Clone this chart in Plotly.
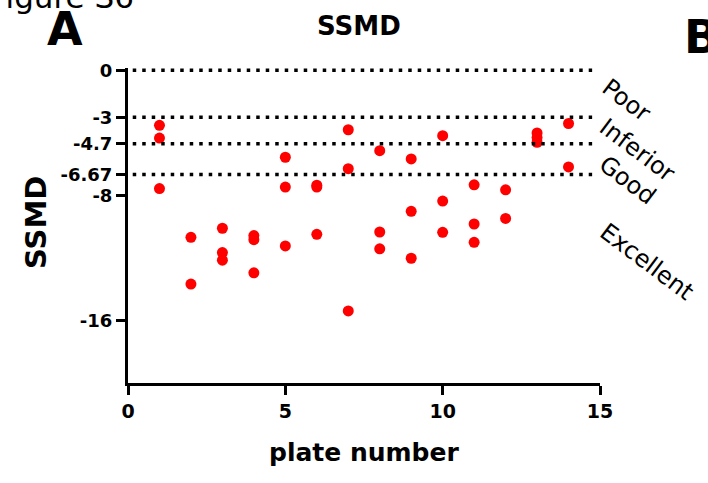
import plotly.graph_objects as go

# ---- data ----
plate = [1, 1, 1, 2, 2, 3, 3, 3, 4, 4, 4, 5, 5, 5, 6, 6, 6, 7, 7, 7,
         8, 8, 8, 9, 9, 9, 10, 10, 10, 11, 11, 11, 12, 12, 13, 13, 13, 14, 14]
ssmd = [-3.52, -4.33, -7.56, -10.68, -13.67, -10.1, -11.66, -12.14,
        -10.57, -10.83, -12.95, -5.56, -7.47, -11.23, -7.35, -7.47, -10.49,
        -3.8, -6.29, -15.39, -5.14, -10.34, -11.42, -5.67, -9.02, -12.02,
        -4.18, -8.36, -10.36, -7.32, -9.83, -11.0, -7.64, -9.47,
        -4.0, -4.3, -4.6, -3.4, -6.18]
thresholds = [0, -3, -4.7, -6.67]
y_tickvals = [0, -3, -4.7, -6.67, -8, -16]
y_ticktext = ["0", "-3", "-4.7", "-6.67", "-8", "-16"]
x_tickvals = [0, 5, 10, 15]
quality_labels = ["Poor", "Inferior", "Good", "Excellent"]

W, H = 708, 483
L, R, T, B = 128, 108, 68, 100
PW, PH = W - L - R, H - T - B


def px(x):
    return (x - L) / PW


def py(y):
    return (H - B - y) / PH


FONT = "DejaVu Sans"

fig = go.Figure()
fig.add_trace(go.Scatter(
    x=plate, y=ssmd, mode="markers",
    marker=dict(color="#ff0000", size=11, line=dict(width=0)),
    showlegend=False, cliponaxis=False,
))

for t in thresholds:
    fig.add_shape(type="line", xref="x", yref="y", x0=0.15, x1=14.75, y0=t, y1=t,
                  line=dict(color="black", width=3.5, dash="3.5px,6px"))

annotations = []
# category labels (rotated)
label_pos = [(626, 100), (637, 150), (627, 180), (647, 262)]
for txt, (lx, ly) in zip(quality_labels, label_pos):
    annotations.append(dict(text=txt, x=px(lx), y=py(ly), xref="paper", yref="paper",
                            showarrow=False, textangle=37, xanchor="center", yanchor="middle",
                            font=dict(family=FONT, size=24, color="black")))
# titles
annotations.append(dict(text="SSMD", x=px(359), y=py(26), xref="paper", yref="paper",
                        showarrow=False, xanchor="center", yanchor="middle",
                        font=dict(family=FONT, size=26, color="black", weight="bold")))
annotations.append(dict(text="SSMD", x=px(36), y=py(223), xref="paper", yref="paper",
                        showarrow=False, xanchor="center", yanchor="middle", textangle=-90,
                        font=dict(family=FONT, size=29, color="black", weight="bold")))
annotations.append(dict(text="plate number", x=px(364), y=py(452), xref="paper", yref="paper",
                        showarrow=False, xanchor="center", yanchor="middle",
                        font=dict(family=FONT, size=25, color="black", weight="bold")))
annotations.append(dict(text="A", x=px(65), y=py(29), xref="paper", yref="paper",
                        showarrow=False, xanchor="center", yanchor="middle",
                        font=dict(family=FONT, size=46, color="black", weight="bold")))
annotations.append(dict(text="B", x=px(682), y=py(37), xref="paper", yref="paper",
                        showarrow=False, xanchor="left", yanchor="middle",
                        font=dict(family=FONT, size=46, color="black", weight="bold")))
annotations.append(dict(text="Figure S6", x=px(136), y=py(-3), xref="paper", yref="paper",
                        showarrow=False, xanchor="right", yanchor="middle",
                        font=dict(family=FONT, size=31, color="black")))

fig.update_layout(
    width=W, height=H,
    margin=dict(l=L, r=R, t=T, b=B, autoexpand=False),
    paper_bgcolor="white", plot_bgcolor="white",
    annotations=annotations,
    xaxis=dict(range=[0, 15], tickvals=x_tickvals, showgrid=False, zeroline=False,
               showline=True, linecolor="black", linewidth=3,
               ticks="outside", ticklen=9, tickwidth=3, tickcolor="black",
               tickfont=dict(family=FONT, size=19, color="black", weight="bold")),
    yaxis=dict(range=[-20, 0.15], tickvals=y_tickvals, ticktext=y_ticktext,
               showgrid=False, zeroline=False,
               showline=True, linecolor="black", linewidth=3,
               ticks="outside", ticklen=9, tickwidth=3, tickcolor="black",
               tickfont=dict(family=FONT, size=18, color="black", weight="bold")),
)

fig.write_html("out.html", config={"displayModeBar": False},
               post_script="document.body.style.margin='0';")
